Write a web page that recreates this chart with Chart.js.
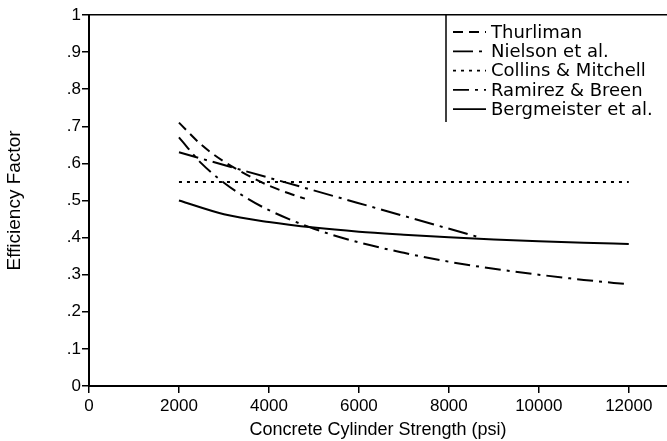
<!DOCTYPE html>
<html>
<head>
<meta charset="utf-8">
<script src="https://cdn.jsdelivr.net/npm/chart.js@4.4.1/dist/chart.umd.min.js"></script>
<style>
    html, body { margin: 0; padding: 0; background: #fff; }
    #wrap { width: 667px; height: 441px; position: relative; }
</style>
</head>
<body>
<div id="wrap"><canvas id="efficiencyChart"></canvas></div>
<script>
        // Data (psi vs efficiency factor)
        const thurlimanPsi = [2000, 2500, 3000, 3500, 4000, 4500, 4800];
        const thurlimanNu = [0.71, 0.65, 0.605, 0.57, 0.54, 0.517, 0.505];

        const nielsonPsi = [2000, 8700];
        const nielsonNu = [0.63, 0.40];

        const collinsPsi = [2000, 12000];
        const collinsNu = [0.55, 0.55];

        const ramirezPsi = [2000, 2500, 3000, 3500, 4000, 5000, 6000, 7000, 8000, 9000, 10000, 11000, 12000];
        const ramirezNu = [0.67, 0.60, 0.548, 0.507, 0.474, 0.424, 0.387, 0.359, 0.335, 0.316, 0.30, 0.286, 0.274];

        const bergmeisterPsi = [2000, 3000, 4000, 5000, 6000, 7000, 8000, 9000, 10000, 11000, 12000];
        const bergmeisterNu = [0.50, 0.463, 0.442, 0.427, 0.416, 0.408, 0.401, 0.395, 0.390, 0.386, 0.383];

        const xTicks = [0, 2000, 4000, 6000, 8000, 10000, 12000];
        const yTickLabels = ['0', '.1', '.2', '.3', '.4', '.5', '.6', '.7', '.8', '.9', '1'];

        const toPoints = (xs, ys) => xs.map((x, i) => ({ x: x, y: ys[i] }));

        const tickFont = { family: 'Liberation Sans', size: 17 };

        // Legend box drawn in the top right corner, like the original
        const boxLegend = {
            id: 'boxLegend',
            afterDraw(chart) {
                const ctx = chart.ctx;
                const top = chart.chartArea.top;
                ctx.save();
                ctx.strokeStyle = '#000';
                ctx.lineWidth = 1.5;
                ctx.beginPath();
                ctx.moveTo(446, top);
                ctx.lineTo(446, 122);
                ctx.stroke();

                ctx.font = '18px "DejaVu Sans"';
                ctx.fillStyle = '#000';
                ctx.textBaseline = 'middle';
                chart.data.datasets.forEach((ds, i) => {
                    const y = 32 + i * 19.3;
                    ctx.setLineDash(ds.borderDash || []);
                    ctx.lineWidth = 1.8;
                    ctx.beginPath();
                    ctx.moveTo(453, y);
                    ctx.lineTo(486, y);
                    ctx.stroke();
                    ctx.setLineDash([]);
                    ctx.fillText(ds.label, 491, y + 1);
                });
                ctx.restore();
            }
        };

        const ctx = document.getElementById('efficiencyChart').getContext('2d');
        const efficiencyChart = new Chart(ctx, {
            type: 'line',
            data: {
                datasets: [{
                    label: 'Thurliman',
                    data: toPoints(thurlimanPsi, thurlimanNu),
                    borderDash: [10, 6]
                }, {
                    label: 'Nielson et al.',
                    data: toPoints(nielsonPsi, nielsonNu),
                    borderDash: [20, 6, 3, 6]
                }, {
                    label: 'Collins & Mitchell',
                    data: toPoints(collinsPsi, collinsNu),
                    borderDash: [3, 5]
                }, {
                    label: 'Ramirez & Breen',
                    data: toPoints(ramirezPsi, ramirezNu),
                    borderDash: [16, 6, 3, 6]
                }, {
                    label: 'Bergmeister et al.',
                    data: toPoints(bergmeisterPsi, bergmeisterNu),
                    borderDash: []
                }].map(ds => Object.assign(ds, {
                    borderColor: '#000',
                    borderWidth: 2,
                    pointRadius: 0,
                    fill: false,
                    cubicInterpolationMode: 'monotone'
                }))
            },
            options: {
                responsive: true,
                maintainAspectRatio: false,
                animation: false,
                layout: { padding: 0 },
                plugins: {
                    legend: { display: false },
                    tooltip: { enabled: false }
                },
                scales: {
                    x: {
                        type: 'linear',
                        min: 0,
                        max: 12850,
                        afterBuildTicks: scale => {
                            scale.ticks = xTicks.map(v => ({ value: v }));
                        },
                        afterFit: scale => { scale.height = 55; },
                        ticks: {
                            color: '#000',
                            font: tickFont,
                            padding: 3,
                            maxRotation: 0,
                            callback: v => String(v)
                        },
                        grid: {
                            drawOnChartArea: false,
                            drawTicks: true,
                            tickLength: 7,
                            color: '#000',
                            lineWidth: 1.5
                        },
                        border: { display: true, color: '#000', width: 2 },
                        title: {
                            display: true,
                            text: 'Concrete Cylinder Strength (psi)',
                            color: '#000',
                            font: { family: 'Liberation Sans', size: 18 },
                            padding: { top: 0, bottom: 0 }
                        }
                    },
                    xTop: {
                        type: 'linear',
                        position: 'top',
                        min: 0,
                        max: 12850,
                        afterFit: scale => { scale.height = 15; },
                        ticks: { display: false },
                        grid: { display: false, drawTicks: false },
                        border: { display: true, color: '#000', width: 1.5 }
                    },
                    y: {
                        min: 0,
                        max: 1,
                        afterBuildTicks: scale => {
                            scale.ticks = yTickLabels.map((t, i) => ({ value: i / 10 }));
                        },
                        afterFit: scale => { scale.width = 89; },
                        ticks: {
                            color: '#000',
                            font: tickFont,
                            padding: 1,
                            callback: (v, i) => yTickLabels[i]
                        },
                        grid: {
                            drawOnChartArea: false,
                            drawTicks: true,
                            tickLength: 7,
                            color: '#000',
                            lineWidth: 1.5
                        },
                        border: { display: true, color: '#000', width: 2 },
                        title: {
                            display: true,
                            text: 'Efficiency Factor',
                            color: '#000',
                            font: { family: 'Liberation Sans', size: 19 },
                            padding: { top: 3, bottom: 0 }
                        }
                    }
                }
            },
            plugins: [boxLegend]
        });
</script>
</body>
</html>
